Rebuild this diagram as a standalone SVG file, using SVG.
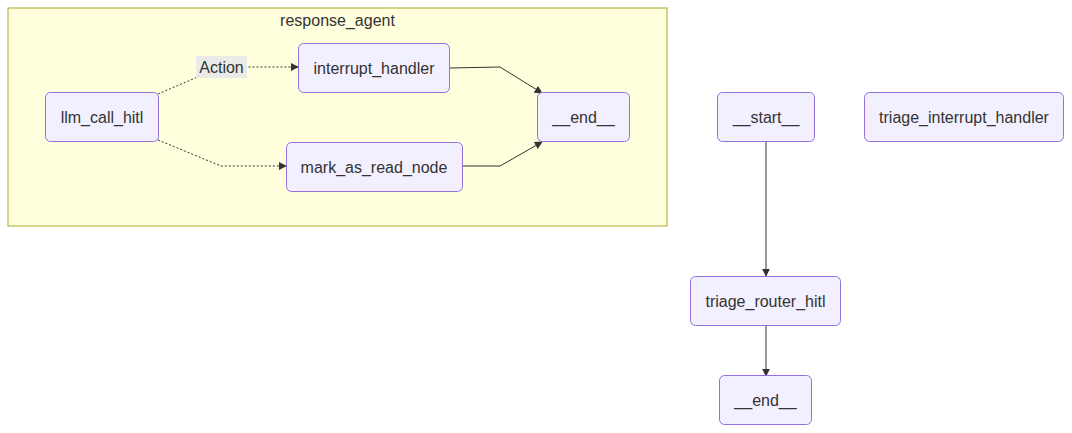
<svg xmlns="http://www.w3.org/2000/svg" width="1072" height="433" viewBox="0 0 1072 433">
<style>
.node rect{fill:#f2f0ff;stroke:#9370db;stroke-width:1}
text{font-family:"Liberation Sans",Arial,sans-serif;font-size:16px;fill:#333;text-anchor:middle;dominant-baseline:central}
.edge{fill:none;stroke:#333;stroke-width:1}
.dot{stroke-dasharray:2 2}
</style>
<defs>
<marker id="arr" viewBox="0 0 10 10" refX="9" refY="5" markerWidth="8" markerHeight="8" orient="auto" markerUnits="userSpaceOnUse">
<path d="M0,0 L10,5 L0,10 z" fill="#333"/>
</marker>
</defs>
<rect width="1072" height="433" fill="#fff"/>
<g id="cluster-response_agent">
<rect x="8" y="8" width="659" height="218" fill="#ffffde" stroke="#aaaa33" stroke-width="1"/>
<text x="337.5" y="20">response_agent</text>
</g>
<g id="connectors">
<path class="edge dot" d="M158,94 L221,67 L298,67" marker-end="url(#arr)"/>
<path class="edge dot" d="M158,140 L221,166 L286,166" marker-end="url(#arr)"/>
<path class="edge" d="M450,68 L500,67 L542,93" marker-end="url(#arr)"/>
<path class="edge" d="M462,166 L500,166 L542,142" marker-end="url(#arr)"/>
<path class="edge" d="M766,142 L766,276" marker-end="url(#arr)"/>
<path class="edge" d="M766,325 L766,376" marker-end="url(#arr)"/>
<g id="label-action">
<rect x="196" y="56" width="51" height="22" fill="#e8e8e8" opacity="0.9"/>
<text x="221.5" y="67">Action</text>
</g>
</g>
<g id="llm_call_hitl" class="node"><rect x="45.5" y="92.5" width="113" height="49" rx="5"/><text x="102" y="117">llm_call_hitl</text></g>
<g id="interrupt_handler" class="node"><rect x="298.5" y="43.5" width="151" height="49" rx="5"/><text x="374" y="68">interrupt_handler</text></g>
<g id="mark_as_read_node" class="node"><rect x="286.5" y="142.5" width="176" height="49" rx="5"/><text x="374" y="167">mark_as_read_node</text></g>
<g id="response_end" class="node"><rect x="537.5" y="92.5" width="92" height="49" rx="5"/><text x="583.5" y="117">__end__</text></g>
<g id="start" class="node"><rect x="717.5" y="92.5" width="97" height="49" rx="5"/><text x="766" y="117">__start__</text></g>
<g id="triage_interrupt_handler" class="node"><rect x="864.5" y="92.5" width="199" height="49" rx="5"/><text x="964" y="117">triage_interrupt_handler</text></g>
<g id="triage_router_hitl" class="node"><rect x="690.5" y="276.5" width="150" height="49" rx="5"/><text x="765.5" y="301">triage_router_hitl</text></g>
<g id="end" class="node"><rect x="719.5" y="375.5" width="92" height="49" rx="5"/><text x="765.5" y="400">__end__</text></g>
</svg>
